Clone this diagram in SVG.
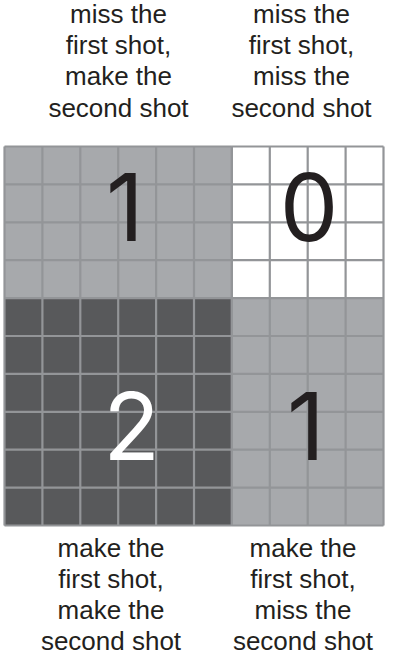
<svg xmlns="http://www.w3.org/2000/svg" width="396" height="659" viewBox="0 0 396 659">
<style>
.lbl{font-family:"Liberation Sans",Arial,Helvetica,sans-serif;font-size:26px;fill:#231f20;text-anchor:middle}
.num{font-family:Inter,Roboto,"Liberation Sans",Arial,sans-serif;font-size:93px;text-anchor:middle}
.grid{stroke:#939598;stroke-width:2.2;fill:none}
</style>
<rect width="396" height="659" fill="#ffffff"/>
<g id="q-miss-make">
<rect x="4.5" y="146.5" width="227.4" height="151.6" fill="#a7a9ac"/>
<path class="grid" d="M4.5 146.5V298.1M42.4 146.5V298.1M80.3 146.5V298.1M118.2 146.5V298.1M156.1 146.5V298.1M194 146.5V298.1M231.9 146.5V298.1M4.5 146.5H231.9M4.5 184.4H231.9M4.5 222.3H231.9M4.5 260.2H231.9M4.5 298.1H231.9"/>
<text class="num" x="125" y="241" fill="#231f20">1</text>
</g>
<g id="q-miss-miss">
<rect x="231.9" y="146.5" width="151.6" height="151.6" fill="#ffffff"/>
<path class="grid" d="M231.9 146.5V298.1M269.8 146.5V298.1M307.7 146.5V298.1M345.6 146.5V298.1M383.5 146.5V298.1M231.9 146.5H383.5M231.9 184.4H383.5M231.9 222.3H383.5M231.9 260.2H383.5M231.9 298.1H383.5"/>
<text class="num" x="309" y="241" fill="#231f20">0</text>
</g>
<g id="q-make-make">
<rect x="4.5" y="298.1" width="227.4" height="227.4" fill="#58595b"/>
<path class="grid" d="M4.5 298.1V525.5M42.4 298.1V525.5M80.3 298.1V525.5M118.2 298.1V525.5M156.1 298.1V525.5M194 298.1V525.5M231.9 298.1V525.5M4.5 298.1H231.9M4.5 336H231.9M4.5 373.9H231.9M4.5 411.8H231.9M4.5 449.7H231.9M4.5 487.6H231.9M4.5 525.5H231.9"/>
<text class="num" x="131.7" y="460" fill="#ffffff">2</text>
</g>
<g id="q-make-miss">
<rect x="231.9" y="298.1" width="151.6" height="227.4" fill="#a7a9ac"/>
<path class="grid" d="M231.9 298.1V525.5M269.8 298.1V525.5M307.7 298.1V525.5M345.6 298.1V525.5M383.5 298.1V525.5M231.9 298.1H383.5M231.9 336H383.5M231.9 373.9H383.5M231.9 411.8H383.5M231.9 449.7H383.5M231.9 487.6H383.5M231.9 525.5H383.5"/>
<text class="num" x="306" y="460" fill="#231f20">1</text>
</g>
<g id="label-top-left">
<text class="lbl" x="118.5" y="22.7">miss the</text>
<text class="lbl" x="118.5" y="54">first shot,</text>
<text class="lbl" x="118.5" y="85.3">make the</text>
<text class="lbl" x="118.5" y="116.6">second shot</text>
</g>
<g id="label-top-right">
<text class="lbl" x="301.5" y="22.7">miss the</text>
<text class="lbl" x="301.5" y="54">first shot,</text>
<text class="lbl" x="301.5" y="85.3">miss the</text>
<text class="lbl" x="301.5" y="116.6">second shot</text>
</g>
<g id="label-bottom-left">
<text class="lbl" x="111" y="556.7">make the</text>
<text class="lbl" x="111" y="587.8">first shot,</text>
<text class="lbl" x="111" y="618.9">make the</text>
<text class="lbl" x="111" y="650">second shot</text>
</g>
<g id="label-bottom-right">
<text class="lbl" x="303" y="556.7">make the</text>
<text class="lbl" x="303" y="587.8">first shot,</text>
<text class="lbl" x="303" y="618.9">miss the</text>
<text class="lbl" x="303" y="650">second shot</text>
</g>
</svg>
